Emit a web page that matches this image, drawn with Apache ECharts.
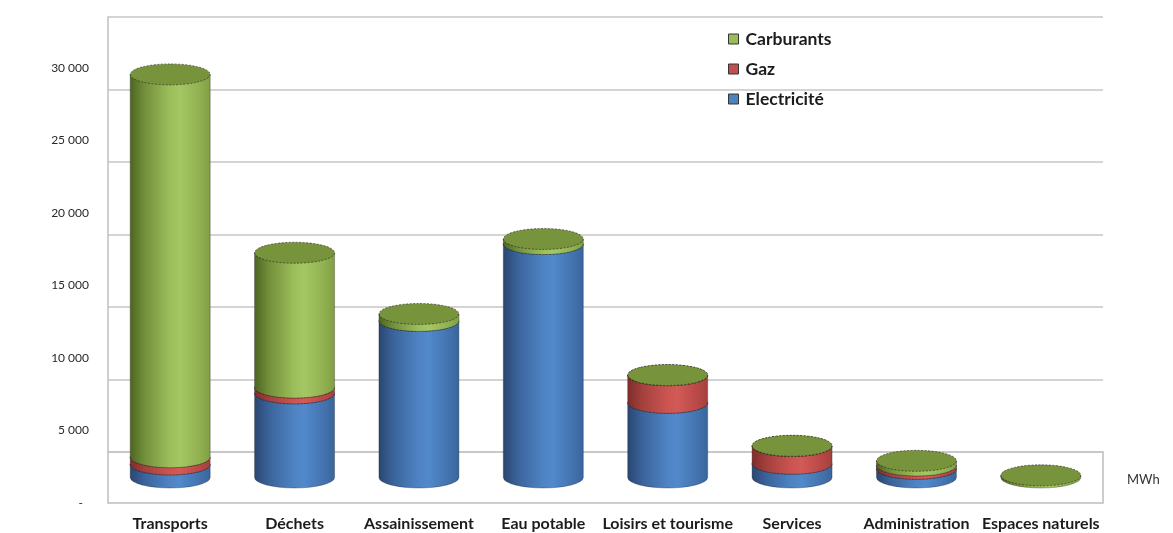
<!DOCTYPE html>
<html>
<head>
<meta charset="utf-8">
<script src="https://cdn.jsdelivr.net/npm/echarts@6/dist/echarts.min.js"></script>
<style>
  html, body { margin: 0; padding: 0; background: #ffffff; }
  #chart { width: 1173px; height: 533px; }
</style>
</head>
<body>
<div id="chart"></div>
<script>
// Consommation d'énergie par secteur (MWh)
const categories = ['Transports', 'Déchets', 'Assainissement', 'Eau potable',
  'Loisirs et tourisme', 'Services', 'Administration', 'Espaces naturels'];
const electricite = [900, 5800, 10800, 16100, 5150, 950, 600, 0];
const gaz         = [500, 400, 0, 0, 1900, 1220, 230, 0];
const carburants  = [26400, 9300, 480, 350, 20, 20, 320, 150];
const legendOrder = ['Carburants', 'Gaz', 'Electricité'];
const unitLabel = 'MWh';
const yMax = 30000;
const yStep = 5000;

const FONT = 'Lato, "Open Sans", sans-serif';

// stacked layers, bottom to top
const layers = [
  { name: 'Electricité', values: electricite, color: '#4F81BD', cap: '#3F6CA3',
    side: ['#294670', '#3a639a', '#4f84c4', '#5189cb', '#4474b0', '#3a659c'] },
  { name: 'Gaz', values: gaz, color: '#C0504D', cap: '#A8413E',
    side: ['#7e2c2a', '#a3403d', '#cc5552', '#d25a57', '#ba4a47', '#a4403d'] },
  { name: 'Carburants', values: carburants, color: '#9BBB59', cap: '#77933C',
    side: ['#4c6420', '#738f3b', '#9dbf5b', '#a5c763', '#92b252', '#809f44'] }
];

// cumulative bases for each layer
const running = categories.map(() => 0);
const layerData = layers.map(layer => layer.values.map((v, i) => {
  const base = running[i];
  running[i] += v;
  return [i, base, running[i]];
}));

function sideGradient(stops) {
  const pos = [0, 0.18, 0.5, 0.62, 0.85, 1];
  return new echarts.graphic.LinearGradient(0, 0, 1, 0,
    stops.map((c, k) => ({ offset: pos[k], color: c })));
}

function cylinderRenderer(layer) {
  const fill = sideGradient(layer.side);
  return function (params, api) {
    const i = api.value(0);
    const lo = api.value(1);
    const hi = api.value(2);
    if (!(hi > lo)) return null;
    const pb = api.coord([i, lo]);
    const pt = api.coord([i, hi]);
    const rx = api.size([1, 0])[0] * 0.643 / 2;
    const ry = 10.5;
    const cx = pb[0];
    const yb = pb[1];
    const yt = pt[1];
    const body = 'M' + (cx - rx) + ' ' + yt +
      ' L' + (cx - rx) + ' ' + yb +
      ' A' + rx + ' ' + ry + ' 0 0 0 ' + (cx + rx) + ' ' + yb +
      ' L' + (cx + rx) + ' ' + yt + ' Z';
    const top = 'M' + (cx - rx) + ' ' + yt +
      ' A' + rx + ' ' + ry + ' 0 1 0 ' + (cx + rx) + ' ' + yt +
      ' A' + rx + ' ' + ry + ' 0 1 0 ' + (cx - rx) + ' ' + yt + ' Z';
    return {
      type: 'group',
      children: [
        { type: 'path', shape: { pathData: body },
          style: { fill: fill, stroke: 'rgba(30,30,30,0.45)', lineWidth: 0.7 } },
        { type: 'path', shape: { pathData: top },
          style: { fill: layer.cap, stroke: 'rgba(25,25,25,0.7)', lineWidth: 0.8, lineDash: [2, 1.5] } }
      ]
    };
  };
}

function thousands(v) {
  if (v === 0) return '-  ';
  return String(v).replace(/\B(?=(\d{3})+(?!\d))/g, ' ');
}

const gridSide = { left: 108, right: 70 };
const chart = echarts.init(document.getElementById('chart'));

chart.setOption({
  animation: false,
  backgroundColor: '#ffffff',
  grid: [
    // cylinders (mid depth)
    Object.assign({ top: 42.5, bottom: 55.5 }, gridSide),
    // back wall
    Object.assign({ top: 17, bottom: 81 }, gridSide),
    // front edge with labels
    Object.assign({ top: 68, bottom: 30 }, gridSide),
    // floor
    Object.assign({ top: 452, bottom: 30, show: true, borderColor: '#bdbdbd', borderWidth: 1.5 }, gridSide)
  ],
  xAxis: [
    { gridIndex: 0, type: 'category', data: categories, show: false },
    { gridIndex: 1, type: 'category', data: categories, show: false },
    { gridIndex: 2, type: 'category', data: categories,
      axisLine: { show: false }, axisTick: { show: false },
      axisLabel: { interval: 0, margin: 13, fontSize: 16, fontWeight: 'bold',
        fontFamily: FONT, color: '#1c1c1c' } },
    { gridIndex: 3, type: 'category', data: categories, show: false }
  ],
  yAxis: [
    { gridIndex: 0, type: 'value', min: 0, max: yMax, interval: yStep, show: false },
    { gridIndex: 1, type: 'value', min: 0, max: yMax, interval: yStep,
      axisLine: { show: true, lineStyle: { color: '#bfbfbf', width: 1.5 } },
      axisTick: { show: false }, axisLabel: { show: false },
      splitLine: { show: true, lineStyle: { color: '#c6c6c6', width: 1.5 } } },
    { gridIndex: 2, type: 'value', min: 0, max: yMax, interval: yStep,
      axisLine: { show: false }, axisTick: { show: false }, splitLine: { show: false },
      axisLabel: { margin: 19, fontSize: 12, fontFamily: FONT, color: '#2a2a2a',
        formatter: thousands } },
    { gridIndex: 3, type: 'value', min: 0, max: yMax, show: false }
  ],
  legend: {
    data: legendOrder,
    orient: 'vertical',
    left: 728,
    top: 30,
    padding: 0,
    itemWidth: 10,
    itemHeight: 10,
    itemGap: 12,
    icon: 'rect',
    itemStyle: { borderColor: '#353535', borderWidth: 1 },
    textStyle: { fontSize: 17.5, fontWeight: 'bold', fontFamily: FONT, color: '#1c1c1c',
      padding: [0, 0, 0, 2] }
  },
  graphic: [
    { type: 'text', left: 1127, top: 473,
      style: { text: unitLabel, fontSize: 13, fontFamily: FONT, fill: '#333333' } }
  ],
  series: layers.map((layer, k) => ({
    type: 'custom',
    name: layer.name,
    xAxisIndex: 0,
    yAxisIndex: 0,
    clip: false,
    itemStyle: { color: layer.color },
    encode: { x: 0, y: [1, 2] },
    data: layerData[k],
    renderItem: cylinderRenderer(layer)
  }))
});
</script>
</body>
</html>
